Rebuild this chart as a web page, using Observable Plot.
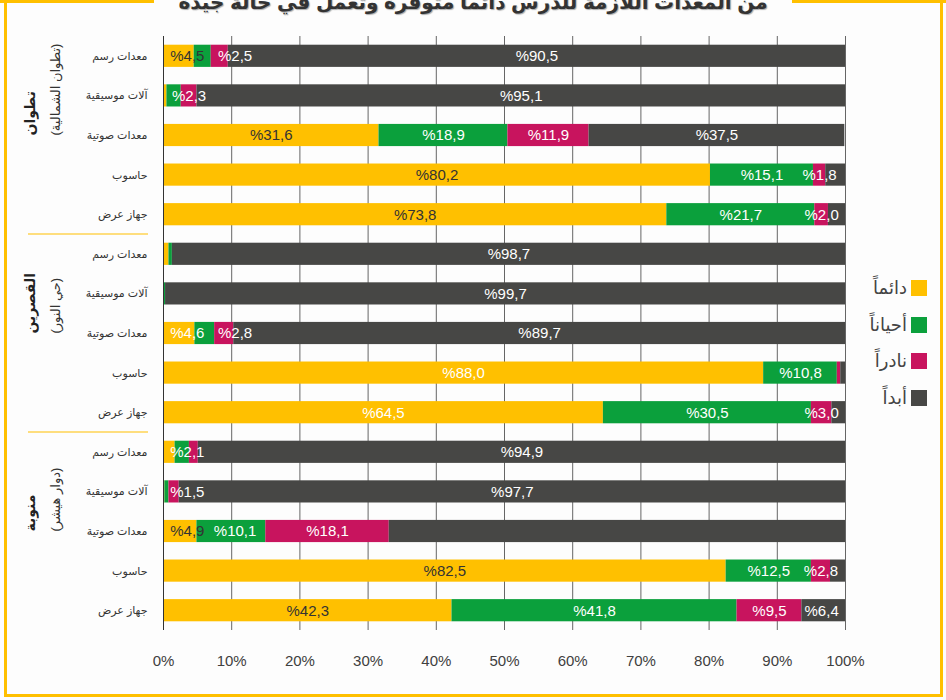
<!DOCTYPE html>
<html>
<head>
<meta charset="utf-8">
<script src="https://cdn.jsdelivr.net/npm/d3@7"></script>
<script src="https://cdn.jsdelivr.net/npm/@observablehq/plot@0.6"></script>
<style>
  html, body { margin: 0; padding: 0; background: #fdfdfd; }
  body { width: 946px; height: 700px; overflow: hidden; position: relative; font-family: "Liberation Sans", Arial, "DejaVu Sans", sans-serif; }
  #chart { position: absolute; left: 0; top: 0; }
  .frame { position: absolute; left: 4px; top: 0; width: 933px; height: 694px; border: 3px solid #FFC000; border-top: none; pointer-events: none; }
  .topline { position: absolute; top: 0; height: 3px; background: #FFC000; }
  .title { position: absolute; top: -8px; left: 0; width: 946px; text-align: center; }
  .title span { display: inline-block; background: #fdfdfd; padding: 0 24px; font-size: 20px; line-height: 20px; font-weight: bold; color: #333; text-shadow: 1px 1px 1px #aaa; direction: rtl; }
  .legend { position: absolute; right: 19px; top: 270px; }
  .legend .row { display: flex; justify-content: flex-end; align-items: center; height: 36.5px; }
  .legend .txt { font-size: 18px; color: #444; margin-right: 4px; direction: rtl; }
  .legend .sw { width: 16px; height: 16px; display: inline-block; }
</style>
</head>
<body>
<div id="chart"></div>
<div class="topline" style="left:0;width:164px"></div>
<div class="topline" style="left:790px;width:156px"></div>
<div class="frame"></div>
<div class="title"><span id="title"></span></div>
<div class="legend" id="legend"></div>
<script>
const titleText = "من المعدات اللازمة للدرس دائما متوفرة وتعمل في حالة جيدة";
const groups = ["تطوان", "القصرين", "منوبة"];
const groupSubs = ["(تطوان الشمالية)", "(حي النور)", "(دوار هيشر)"];
const items = ["معدات رسم", "آلات موسيقية", "معدات صوتية", "حاسوب", "جهاز عرض"];
const series = ["دائماً", "أحياناً", "نادراً", "أبداً"];
const colors = ["#FFC000", "#0BA03C", "#C8145E", "#474745"];
// rows: group-major, items order within each group
const always    = [4.5, 0.5, 31.6, 80.2, 73.8,  0.8, 0.0, 4.6, 88.0, 64.5,  1.7, 0.2, 4.9, 82.5, 42.3];
const sometimes = [2.5, 2.1, 18.9, 15.1, 21.7,  0.5, 0.3, 2.9, 10.8, 30.5,  2.1, 0.6, 10.1, 12.5, 41.8];
const rarely    = [2.5, 2.3, 11.9, 1.8, 2.0,    0.0, 0.0, 2.8, 0.5, 3.0,    1.3, 1.5, 18.1, 2.8, 9.5];
const never     = [90.5, 95.1, 37.5, 2.9, 2.5,  98.7, 99.7, 89.7, 0.7, 2.0, 94.9, 97.7, 66.9, 2.2, 6.4];
// which value labels are printed (always, sometimes, rarely, never)
const labelShown = ["1011","0011","1111","1110","1110",
                    "0001","0001","1011","1100","1110",
                    "0101","0011","1110","1110","1111"];
const xTicks = [0, 10, 20, 30, 40, 50, 60, 70, 80, 90, 100];

document.getElementById("title").textContent = titleText;

const valuesBySeries = [always, sometimes, rarely, never];
const keys = [];
groups.forEach((g, gi) => items.forEach((it, ii) => keys.push(g + "|" + it + "|" + (gi*5+ii))));

const long = [];
const labels = [];
keys.forEach((k, r) => {
  let start = 0;
  const shown = [];
  series.forEach((s, si) => {
    const v = valuesBySeries[si][r];
    long.push({key: k, series: s, value: v});
    if (labelShown[r][si] === "1") {
      shown.push({key: k, series: s, si, gi: Math.floor(r / 5), center: start + v / 2,
                  text: "%" + v.toFixed(1).replace(".", ",")});
    }
    start += v;
  });
  const gap = 7, lo = 3.5, hi = 96.5;
  for (let i = 0; i < shown.length; i++) {
    const prev = i > 0 ? shown[i-1].lx + gap : lo;
    shown[i].lx = Math.max(shown[i].center, prev, lo);
  }
  for (let i = shown.length - 1; i >= 0; i--) {
    const next = i < shown.length - 1 ? shown[i+1].lx - gap : hi;
    shown[i].lx = Math.min(shown[i].lx, next, hi);
  }
  labels.push(...shown);
});

const groupMid = groups.map((g, gi) => ({key: keys[gi*5 + 2], name: g, sub: groupSubs[gi]}));

const chart = Plot.plot({
  width: 946,
  height: 700,
  marginLeft: 163,
  marginRight: 101,
  marginTop: 36,
  marginBottom: 70,
  style: {fontFamily: "'Liberation Sans', Arial, 'DejaVu Sans', sans-serif", fontSize: "11px", background: "transparent", color: "#333"},
  x: {domain: [0, 100], label: null},
  y: {domain: keys, paddingInner: 0.44, paddingOuter: 0.22, round: false, label: null},
  color: {domain: series, range: colors},
  marks: [
    Plot.ruleX(xTicks.filter(d => d > 0), {stroke: "#666", strokeWidth: 1}),
    Plot.barX(long, {x: "value", y: "key", fill: "series"}),
    Plot.ruleX([0], {stroke: "#333", strokeWidth: 1}),
    Plot.text(labels, {x: "lx", y: "key", text: "text", fontSize: 15,
      fill: d => (d.si === 0 && d.gi !== 1) ? "#333" : "#fff"}),
    Plot.axisX({ticks: xTicks, tickFormat: d => d + "%", tickSize: 0, tickPadding: 25, fontSize: 15, fill: "#404040"}),
    Plot.axisY({tickSize: 0, tickPadding: 16, tickFormat: k => k.split("|")[1], fontSize: 11, fill: "#333"}),
    Plot.text(groupMid, {y: "key", text: "name", frameAnchor: "left", dx: -133, rotate: -90, fontSize: 14, fontWeight: "bold", fill: "#222"}),
    Plot.text(groupMid, {y: "key", text: "sub", frameAnchor: "left", dx: -108, rotate: -90, fontSize: 13, fill: "#333"})
  ]
});
document.getElementById("chart").appendChild(chart);

// group separators, placed with the y scale
const ys = chart.scale("y");
const svg = d3.select(chart.tagName.toLowerCase() === "svg" ? chart : chart.querySelector("svg"));
[4, 9].forEach(r => {
  const yy = ys.apply(keys[r]) + ys.bandwidth + (ys.step - ys.bandwidth) / 2;
  svg.append("line").attr("x1", 28).attr("x2", 148).attr("y1", yy).attr("y2", yy)
    .attr("stroke", "#FFC000").attr("stroke-width", 1.2);
});

const legend = document.getElementById("legend");
series.forEach((s, i) => {
  const row = document.createElement("div");
  row.className = "row";
  const t = document.createElement("span");
  t.className = "txt"; t.textContent = s;
  const sw = document.createElement("span");
  sw.className = "sw"; sw.style.background = colors[i];
  row.appendChild(t); row.appendChild(sw);
  legend.appendChild(row);
});
</script>
</body>
</html>
